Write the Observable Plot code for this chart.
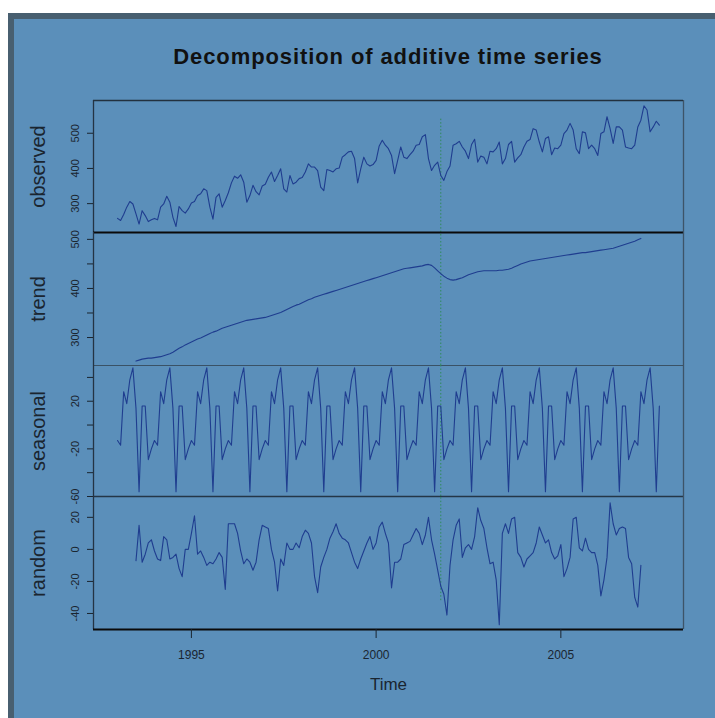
<!DOCTYPE html>
<html><head><meta charset="utf-8">
<script src="https://cdn.jsdelivr.net/npm/d3@7"></script>
<script src="https://cdn.jsdelivr.net/npm/@observablehq/plot@0.6"></script>
<style>
html,body{margin:0;padding:0;background:#fff;}
#page{position:relative;width:715px;height:718px;overflow:hidden;background:#fff;font-family:"Liberation Sans",Arial,sans-serif;}
#bg{position:absolute;left:8px;top:13px;right:0;bottom:0;background:#5b8fba;border-top:6px solid #485f70;border-left:6px solid #485f70;}
#title{position:absolute;left:93px;width:590px;top:45px;text-align:center;font-weight:bold;font-size:22px;letter-spacing:0.9px;color:#111;line-height:24px;}
.p{position:absolute;left:0;}
</style></head><body>
<div id="page">
<div id="bg"></div>
<div id="title">Decomposition of additive time series</div>
<div class="p" id="p1" style="top:100px"></div>
<div class="p" id="p2" style="top:232px"></div>
<div class="p" id="p3" style="top:365px"></div>
<div class="p" id="p4" style="top:496px"></div>
</div>
<script>
// monthly series, first observation Jan 1993
const startYear = 1993;
const observed = [
258,252,269,290,306,299,271,242,280,266,249,254,
258,254,290,299,321,304,261,235,292,280,273,285,
302,306,323,328,342,337,290,256,318,328,290,309,
331,359,378,372,382,361,304,323,352,334,325,350,
355,375,390,363,380,399,342,333,380,356,361,371,
374,390,413,404,404,394,347,337,397,394,390,399,
401,432,439,447,449,428,359,399,432,413,407,411,
423,464,480,466,456,437,385,423,461,432,428,439,
449,466,468,490,496,428,394,409,418,380,366,391,
407,466,470,477,461,449,428,468,483,418,435,432,
413,449,447,456,475,413,428,468,477,418,430,439,
461,477,482,513,509,475,447,485,490,439,458,456,
466,499,509,528,509,456,442,504,501,456,466,456,
437,499,504,547,513,471,518,518,509,461,458,456,
466,518,537,578,566,504,518,534,523];
// trend and random start Jul 1993 (6 months in)
const trendStart = 6;
const trend = [
252,254,256,257,258,258,
259,260,261,263,265,267,270,274,278,281,285,288,
291,294,297,299,302,305,308,311,313,316,319,321,
323,325,327,329,331,333,335,336,337,338,339,340,
341,343,345,347,349,351,354,357,360,363,366,368,
371,374,377,379,382,384,386,388,390,392,394,396,
398,400,402,404,406,408,410,412,414,416,418,420,
422,424,426,428,430,432,434,436,438,440,441,442,
443,444,445,446,448,449,447,442,436,430,425,421,
418,417,418,420,422,425,428,430,432,434,435,436,
436,436,436,436,437,437,438,439,441,444,447,450,
452,454,456,457,458,459,460,461,462,463,464,465,
466,467,468,469,470,471,472,473,473,474,475,476,
477,478,479,480,481,482,484,486,488,490,492,494,
496,499,502];
const seasonal = [
-13,-17,28,18,38,48,14,-56,16,16,-29,-20,
-13,-17,28,18,38,48,14,-56,16,16,-29,-20,
-13,-17,28,18,38,48,14,-56,16,16,-29,-20,
-13,-17,28,18,38,48,14,-56,16,16,-29,-20,
-13,-17,28,18,38,48,14,-56,16,16,-29,-20,
-13,-17,28,18,38,48,14,-56,16,16,-29,-20,
-13,-17,28,18,38,48,14,-56,16,16,-29,-20,
-13,-17,28,18,38,48,14,-56,16,16,-29,-20,
-13,-17,28,18,38,48,14,-56,16,16,-29,-20,
-13,-17,28,18,38,48,14,-56,16,16,-29,-20,
-13,-17,28,18,38,48,14,-56,16,16,-29,-20,
-13,-17,28,18,38,48,14,-56,16,16,-29,-20,
-13,-17,28,18,38,48,14,-56,16,16,-29,-20,
-13,-17,28,18,38,48,14,-56,16,16,-29,-20,
-13,-17,28,18,38,48,14,-56,16];
const random = [
-7,15,-8,-3,4,6,
-1,-6,-7,8,6,-6,-5,-3,-12,-17,0,0,
10,21,-3,-1,-5,-10,-8,-9,-6,-2,-5,-25,
16,16,16,10,-1,-9,-6,-8,-13,-8,6,15,
14,13,0,-8,-26,-6,-10,4,0,0,4,1,
8,12,10,4,-17,-27,-11,-5,0,7,11,16,
10,7,6,4,-2,-8,-12,-6,-1,4,8,0,
4,14,17,10,4,-24,-8,-8,-6,3,4,5,
9,13,10,3,9,20,6,-3,-13,-23,-28,-41,
-10,6,15,19,-5,1,3,0,8,26,18,13,
1,-9,-8,-19,-47,10,16,10,19,20,-2,-5,
-11,-6,-4,-2,4,14,9,4,6,-2,-6,-4,
3,-17,-12,-5,19,20,1,-1,7,0,-2,-2,
-10,-29,-19,-5,29,16,9,13,14,13,-5,-9,
-30,-36,-10];

const panelNames = ["observed","trend","seasonal","random"];
const yDomains = {observed:[218,593], trend:[243,514], seasonal:[-60,50], random:[-50,33]};
const yTicks = {observed:[300,400,500], trend:[300,350,400,450,500], seasonal:[-60,-40,-20,0,20,40], random:[-40,-20,0,20]};
const yTickLabels = {observed:[300,400,500], trend:[300,400,500], seasonal:[-60,-20,20], random:[-40,-20,0,20]};
const xTicks = [1995,2000,2005];
const eventYear = 2001.75;
const eventSpan = {observed:[540,218], trend:[243,514], seasonal:[-60,50], random:[-32,33]};

const toRows = (arr, off) => arr.map((v,i)=>({t: startYear + (i+off)/12, v}));
const series = {
  observed: toRows(observed,0),
  trend: toRows(trend,trendStart),
  seasonal: toRows(seasonal,0),
  random: toRows(random,trendStart)
};

const W = 715, ML = 93, MR = 32;
const xDomain = [1992.35, 2008.32];
const heights = {observed:132, trend:133, seasonal:131, random:133};
const lineColor = "#1f3d8f";
const bottomStroke = {observed:["#0a0a0a",2.2], trend:["#3a5266",1.2], seasonal:["#243647",1.5], random:["#0a0a0a",2.2]};

panelNames.forEach((name, idx) => {
  const last = name === "random";
  const dom = yDomains[name];
  const marks = [
    Plot.ruleX([xDomain[0]], {stroke:"#243444", strokeWidth:1.3}),
    Plot.ruleX([xDomain[1]], {stroke:"#3d5468", strokeWidth:1.3}),
    Plot.ruleX([{x:eventYear, y1:eventSpan[name][0], y2:eventSpan[name][1]}], {x:"x", y1:"y1", y2:"y2", stroke:"#2f8a5a", strokeWidth:1, strokeDasharray:"1.5,2"}),
    Plot.line(series[name], {x:"t", y:"v", stroke:lineColor, strokeWidth:1.1}),
    Plot.ruleY([dom[0]], {stroke:bottomStroke[name][0], strokeWidth:bottomStroke[name][1]}),
    Plot.axisY(yTicks[name], {tickSize:6, tickPadding:9, tickRotate:-90, fontSize:11, fill:"#1a2530", stroke:"#1a2530",
      tickFormat: d => yTickLabels[name].includes(d) ? String(d) : "", label:null}),
    Plot.text([name], {frameAnchor:"left", textAnchor:"middle", dx:-55, rotate:-90, fontSize:20, fill:"#1a2530", text:d=>d})
  ];
  if (name === "observed") marks.push(Plot.ruleY([dom[1]], {stroke:"#22313f", strokeWidth:1.5}));
  if (last) {
    marks.push(Plot.axisX(xTicks, {tickSize:9, tickPadding:12, fontSize:12, fill:"#1a2530", stroke:"#1a2530", tickFormat:d=>String(d), label:null}));
    marks.push(Plot.text(["Time"], {frameAnchor:"bottom", textAnchor:"middle", dy:60, fontSize:17, fill:"#1a2530", text:d=>d}));
  }
  const chart = Plot.plot({
    width: W,
    height: heights[name] + (last ? 89 : 0),
    marginLeft: ML, marginRight: MR, marginTop: 0, marginBottom: last ? 89 : 0,
    style: {background:"transparent", fontFamily:"Liberation Sans, Arial, sans-serif", overflow:"visible"},
    x: {domain: xDomain, axis: null},
    y: {domain: dom, axis: null},
    marks
  });
  document.getElementById("p"+(idx+1)).appendChild(chart);
});
</script>
</body></html>
